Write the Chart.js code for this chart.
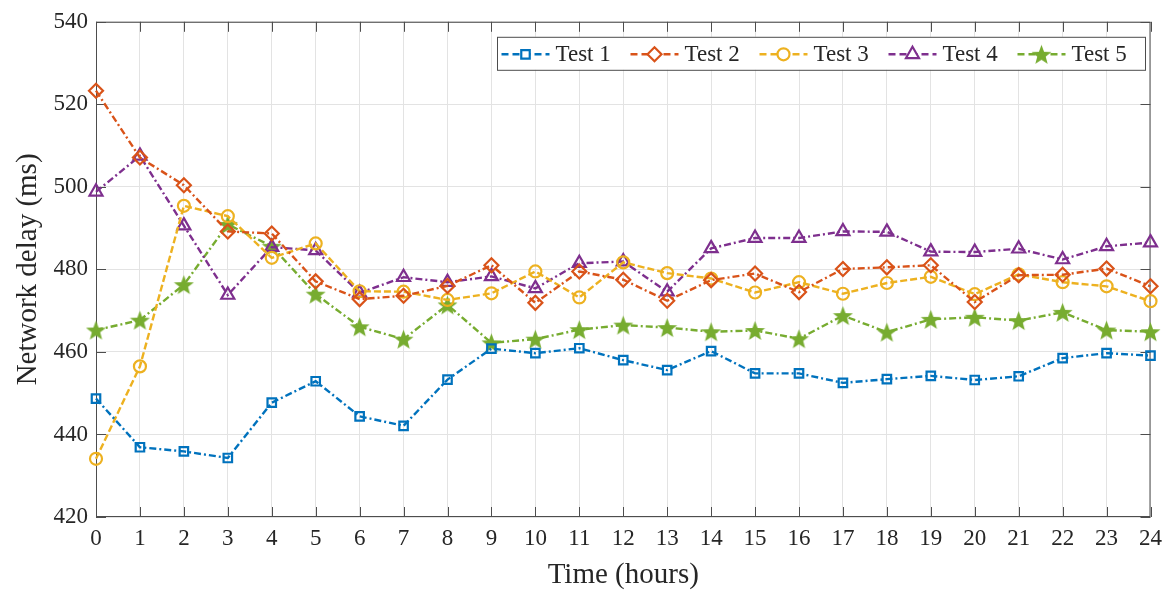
<!DOCTYPE html>
<html>
<head>
<meta charset="utf-8">
<script src="https://cdn.jsdelivr.net/npm/chart.js@4"></script>
<style>
  html, body { margin: 0; padding: 0; background: #fff; }
  #wrap { width: 1170px; height: 591px; }
</style>
</head>
<body>
<div id="wrap"><canvas id="myChart"></canvas></div>
<script>
// hours on the x axis
const hours = ['0','1','2','3','4','5','6','7','8','9','10','11','12','13','14','15','16','17','18','19','20','21','22','23','24'];
const yTicks = [420, 440, 460, 480, 500, 520, 540];

// network delay (ms)
const test1 = [448.7, 436.9, 435.9, 434.3, 447.7, 452.9, 444.4, 442.1, 453.3, 460.8, 459.7, 460.9, 458.0, 455.6, 460.2, 454.8, 454.8, 452.5, 453.4, 454.2, 453.2, 454.1, 458.5, 459.7, 459.1];
const test2 = [523.3, 507.1, 500.4, 489.2, 488.7, 477.1, 472.8, 473.6, 476.0, 481.0, 471.9, 479.5, 477.5, 472.4, 477.4, 479.0, 474.5, 480.1, 480.5, 481.0, 472.1, 478.6, 478.7, 480.2, 475.9];
const test3 = [434.1, 456.5, 495.4, 492.9, 482.8, 486.3, 474.7, 474.6, 472.6, 474.2, 479.5, 473.2, 481.7, 479.1, 477.8, 474.4, 476.9, 474.1, 476.7, 478.2, 474.0, 478.8, 476.9, 475.9, 472.3];
const test4 = [498.8, 507.5, 490.6, 473.8, 485.4, 484.6, 474.3, 478.1, 476.9, 478.3, 475.4, 481.5, 481.9, 474.6, 485.1, 487.6, 487.6, 489.2, 489.1, 484.3, 484.2, 485.0, 482.4, 485.6, 486.5];
const test5 = [465.3, 467.7, 476.3, 490.9, 485.6, 474.0, 466.1, 463.1, 471.4, 462.2, 463.1, 465.4, 466.5, 465.9, 464.9, 465.2, 463.2, 468.8, 464.8, 467.9, 468.4, 467.6, 469.6, 465.3, 464.9];

const seriesNames = ['Test 1', 'Test 2', 'Test 3', 'Test 4', 'Test 5'];
const colors = ['#0072BD', '#D95319', '#EDB120', '#7E2F8E', '#77AC30'];

const FONT = "'Liberation Serif', 'Times New Roman', serif";
const TEXT = '#262626';
const AXIS = '#4d4d4d';

function makeStar(color, size) {
  const c = document.createElement('canvas');
  c.width = size;
  c.height = size;
  const g = c.getContext('2d');
  const R = size / 2, r = R * 0.42;
  g.fillStyle = color;
  g.beginPath();
  for (let i = 0; i < 10; i++) {
    const a = -Math.PI / 2 + i * Math.PI / 5;
    const rr = i % 2 ? r : R;
    const px = R + rr * Math.cos(a), py = R + rr * Math.sin(a) + 1;
    if (i === 0) g.moveTo(px, py); else g.lineTo(px, py);
  }
  g.closePath();
  g.fill();
  return c;
}
const star = makeStar(colors[4], 21);

const dashDot = [7, 3, 2, 3];
const dashed = [7, 3];

function series(i, data, style, radius, dash) {
  return {
    label: seriesNames[i],
    data: data,
    borderColor: colors[i],
    backgroundColor: colors[i],
    borderWidth: 2.4,
    borderDash: dash,
    pointStyle: style,
    pointRadius: radius,
    pointHoverRadius: radius,
    pointBorderWidth: 2.2,
    pointBorderColor: colors[i],
    pointBackgroundColor: 'rgba(255,255,255,0)',
    tension: 0,
    clip: false
  };
}

// axis box with inward ticks, drawn under the lines
const frame = {
  id: 'frame',
  beforeDatasetsDraw(chart) {
    const { ctx, chartArea: a, scales } = chart;
    ctx.save();
    ctx.strokeStyle = AXIS;
    ctx.lineWidth = 1;
    ctx.strokeRect(a.left + 0.5, a.top + 0.5, a.right - a.left - 1, a.bottom - a.top - 1);
    ctx.beginPath();
    scales.y.ticks.forEach(t => {
      const y = Math.round(scales.y.getPixelForValue(t.value)) + 0.5;
      ctx.moveTo(a.left, y); ctx.lineTo(a.left + 10, y);
      ctx.moveTo(a.right, y); ctx.lineTo(a.right - 10, y);
    });
    scales.x.ticks.forEach((t, i) => {
      const x = Math.round(scales.x.getPixelForTick(i)) + 0.5;
      ctx.moveTo(x, a.bottom); ctx.lineTo(x, a.bottom - 10);
      ctx.moveTo(x, a.top); ctx.lineTo(x, a.top + 10);
    });
    ctx.stroke();
    ctx.restore();
  }
};

// boxed legend in the top-right corner of the plot, MATLAB style
const boxLegend = {
  id: 'boxLegend',
  afterDatasetsDraw(chart) {
    const { ctx, chartArea: a } = chart;
    const sample = 48, gap = 6, after = 10, padL = 5, padR = 8;
    ctx.save();
    ctx.font = '23px ' + FONT;
    const items = chart.data.datasets.map(ds => ({ ds, w: ctx.measureText(ds.label).width }));
    const textW = it => Math.max(it.w, 65);
    let total = padL + padR;
    items.forEach((it, i) => { total += sample + gap + textW(it) + (i < items.length - 1 ? after : 0); });
    const h = 33;
    const right = a.right - 6;
    const left = right - total;
    const top = a.top + 15;
    ctx.fillStyle = '#fff';
    ctx.fillRect(left, top, total, h);
    ctx.strokeStyle = AXIS;
    ctx.lineWidth = 1;
    ctx.strokeRect(Math.round(left) + 0.5, top + 0.5, Math.round(total), h);
    const cy = top + h / 2 + 1;
    let x = left + padL;
    items.forEach(it => {
      const ds = it.ds;
      ctx.save();
      ctx.strokeStyle = ds.borderColor;
      ctx.lineWidth = 2.4;
      ctx.setLineDash([7, 4]);
      ctx.beginPath();
      ctx.moveTo(x, cy); ctx.lineTo(x + sample, cy);
      ctx.stroke();
      ctx.setLineDash([]);
      ctx.fillStyle = '#fff';
      ctx.strokeStyle = ds.pointBorderColor;
      ctx.lineWidth = 2.2;
      Chart.helpers.drawPoint(ctx, {
        pointStyle: ds.pointStyle,
        radius: ds.pointRadius,
        rotation: 0,
        borderWidth: 2.2
      }, x + sample / 2, cy);
      ctx.restore();
      ctx.fillStyle = TEXT;
      ctx.textBaseline = 'middle';
      ctx.textAlign = 'left';
      ctx.fillText(ds.label, x + sample + gap, cy + 1);
      x += sample + gap + textW(it) + after;
    });
    ctx.restore();
  }
};

new Chart(document.getElementById('myChart'), {
  type: 'line',
  data: {
    labels: hours,
    datasets: [
      series(0, test1, 'rect', 6, dashDot),
      series(1, test2, 'rectRot', 7, dashDot),
      series(2, test3, 'circle', 6, dashed),
      series(3, test4, 'triangle', 7.5, dashDot),
      series(4, test5, star, 10, dashDot)
    ]
  },
  options: {
    responsive: true,
    maintainAspectRatio: false,
    animation: false,
    layout: { padding: { top: 20, right: 18, left: 0, bottom: 0 } },
    plugins: {
      legend: { display: false },
      tooltip: { enabled: false }
    },
    scales: {
      x: {
        offset: false,
        grid: { color: '#e3e3e3', lineWidth: 1, drawTicks: false },
        border: { display: false },
        ticks: {
          autoSkip: false,
          maxRotation: 0,
          padding: 8,
          color: TEXT,
          font: { family: FONT, size: 23 }
        },
        title: {
          display: true,
          text: 'Time (hours)',
          color: TEXT,
          font: { family: FONT, size: 29, lineHeight: 1.1 },
          padding: { top: 2, bottom: 0 }
        },
        afterFit(scale) { scale.height = 74; }
      },
      y: {
        min: yTicks[0],
        max: yTicks[yTicks.length - 1],
        afterBuildTicks(scale) { scale.ticks = yTicks.map(v => ({ value: v })); },
        grid: { color: '#e3e3e3', lineWidth: 1, drawTicks: false },
        border: { display: false },
        ticks: {
          padding: 8,
          color: TEXT,
          font: { family: FONT, size: 23 }
        },
        title: {
          display: true,
          text: 'Network delay (ms)',
          color: TEXT,
          font: { family: FONT, size: 29 },
          padding: { top: 11, bottom: 0 }
        },
        afterFit(scale) { scale.width = 96; }
      }
    }
  },
  plugins: [frame, boxLegend]
});
</script>
</body>
</html>
